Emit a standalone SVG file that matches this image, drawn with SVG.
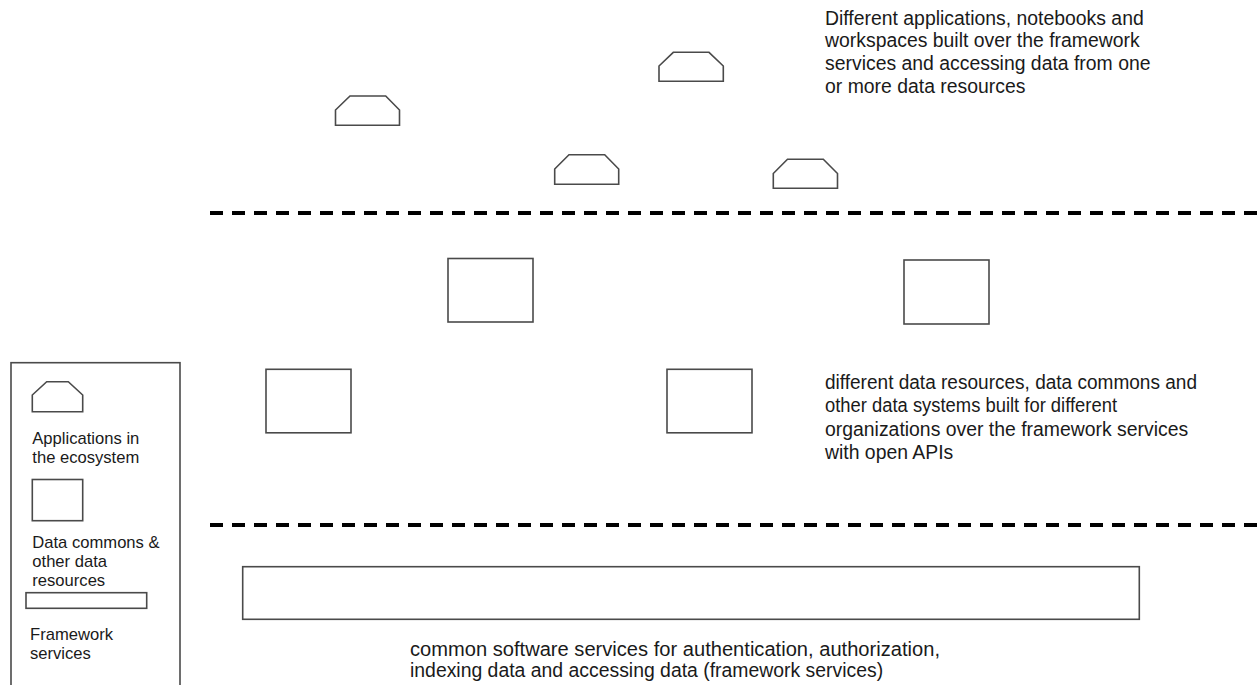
<svg xmlns="http://www.w3.org/2000/svg" width="1258" height="685" viewBox="0 0 1258 685">
  <style>
    .shape { fill: #ffffff; stroke: #4a4a4a; stroke-width: 1.6; }
    .dash { stroke: #000000; stroke-width: 4; stroke-dasharray: 13 9; fill: none; }
    .desc { font-family: "Liberation Sans", Arial, sans-serif; font-size: 19.4px; fill: #1a1a1a; }
    .leg { font-family: "Liberation Sans", Arial, sans-serif; font-size: 16.6px; fill: #1a1a1a; }
  </style>
  <rect width="1258" height="685" fill="#ffffff"/>

  <g id="connectors">
    <line class="dash" x1="210" y1="213" x2="1258" y2="213"/>
    <line class="dash" x1="210" y1="525" x2="1258" y2="525"/>
  </g>

  <g id="app-1"><path class="shape" d="M335.5,125.3 L335.5,110 L350,96 L385.7,96 L399.5,110 L399.5,125.3 Z"/></g>
  <g id="app-2"><path class="shape" d="M659,81.3 L659,66 L673.3,52.3 L709,52.3 L723.3,66 L723.3,81.3 Z"/></g>
  <g id="app-3"><path class="shape" d="M554.7,184.3 L554.7,169 L569,154.7 L604.7,154.7 L618.7,169 L618.7,184.3 Z"/></g>
  <g id="app-4"><path class="shape" d="M773.3,188.3 L773.3,173.5 L787.5,159.3 L823.3,159.3 L837.5,173.5 L837.5,188.3 Z"/></g>

  <g id="data-1"><rect class="shape" x="448" y="258.5" width="85" height="63.5"/></g>
  <g id="data-2"><rect class="shape" x="904" y="260" width="85" height="64"/></g>
  <g id="data-3"><rect class="shape" x="266" y="369.3" width="85" height="63.5"/></g>
  <g id="data-4"><rect class="shape" x="667" y="369.3" width="85" height="63.5"/></g>

  <g id="framework"><rect class="shape" x="242.7" y="566.7" width="896.6" height="52.6"/></g>

  <g id="text-apps">
    <text class="desc" x="825" y="24.5">Different applications, notebooks and</text>
    <text class="desc" x="825" y="47.3">workspaces built over the framework</text>
    <text class="desc" x="825" y="70.1">services and accessing data from one</text>
    <text class="desc" x="825" y="92.9">or more data resources</text>
  </g>

  <g id="text-data">
    <text class="desc" x="825" y="388.5" textLength="372" lengthAdjust="spacingAndGlyphs">different data resources, data commons and</text>
    <text class="desc" x="825" y="412" textLength="292" lengthAdjust="spacingAndGlyphs">other data systems built for different</text>
    <text class="desc" x="825" y="435.5">organizations over the framework services</text>
    <text class="desc" x="825" y="459">with open APIs</text>
  </g>

  <g id="text-framework">
    <text class="desc" x="410" y="656" textLength="530" lengthAdjust="spacingAndGlyphs">common software services for authentication, authorization,</text>
    <text class="desc" x="410" y="677">indexing data and accessing data (framework services)</text>
  </g>

  <g id="legend">
    <rect class="shape" x="11" y="362.7" width="169" height="340"/>
    <path class="shape" d="M32.3,411.7 L32.3,395 L46.7,381.7 L68.3,381.7 L82.7,395 L82.7,411.7 Z"/>
    <text class="leg" x="32.3" y="444">Applications in</text>
    <text class="leg" x="32.3" y="463">the ecosystem</text>
    <rect class="shape" x="32.3" y="479.5" width="50.4" height="41.2"/>
    <text class="leg" x="32.3" y="548">Data commons &amp;</text>
    <text class="leg" x="32.3" y="567">other data</text>
    <text class="leg" x="32.3" y="586">resources</text>
    <rect class="shape" x="26" y="592.7" width="120.7" height="15.6"/>
    <text class="leg" x="30" y="640">Framework</text>
    <text class="leg" x="30" y="659">services</text>
  </g>
</svg>
